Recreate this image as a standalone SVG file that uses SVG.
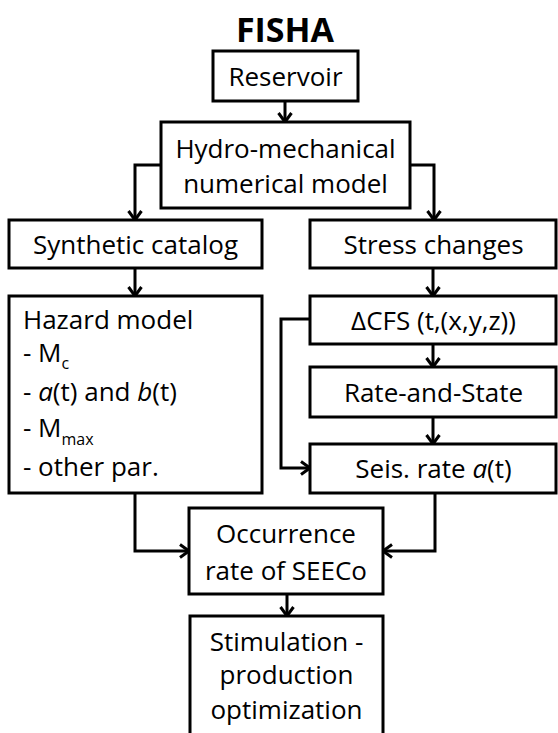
<svg xmlns="http://www.w3.org/2000/svg" width="558" height="733" viewBox="0 0 558 733">
  <style>
    .box { fill: #ffffff; stroke: #000000; stroke-width: 3; }
    .t { font-family: "Open Sans", "Noto Sans", "DejaVu Sans", sans-serif; font-size: 26px; fill: #000000; }
    .c { text-anchor: middle; }
    .title { font-family: "Open Sans", "Noto Sans", "DejaVu Sans", sans-serif; font-size: 34px; font-weight: bold; fill: #000000; text-anchor: middle; }
    .sub { font-size: 16px; }
    .conn { fill: none; stroke: #000000; stroke-width: 3; marker-end: url(#arr); }
  </style>
  <defs>
    <marker id="arr" markerUnits="userSpaceOnUse" viewBox="0 0 16 16" markerWidth="16" markerHeight="16" refX="12" refY="8" orient="auto">
      <path d="M3,1.5 L12,8 L3,14.5" fill="none" stroke="#000000" stroke-width="3"/>
    </marker>
  </defs>
  <rect width="558" height="733" fill="#ffffff"/>

  <text class="title" x="285" y="42">FISHA</text>

  <g id="connectors">
    <path class="conn" d="M285,101 V122"/>
    <path class="conn" d="M161,165 H135 V220"/>
    <path class="conn" d="M410,165 H434 V220"/>
    <path class="conn" d="M135,268 V296"/>
    <path class="conn" d="M433,268 V296"/>
    <path class="conn" d="M433,344 V367"/>
    <path class="conn" d="M433,417 V444"/>
    <path class="conn" d="M312,319 H281 V468 H310"/>
    <path class="conn" d="M135,493 V551 H189"/>
    <path class="conn" d="M435,493 V551 H383"/>
    <path class="conn" d="M287,594 V616"/>
  </g>

  <g id="reservoir">
    <rect class="box" x="213" y="51" width="145" height="50"/>
    <text class="t c" x="285.5" y="86">Reservoir</text>
  </g>

  <g id="hydro">
    <rect class="box" x="161" y="122" width="249" height="86"/>
    <text class="t c" x="285.5" y="158">Hydro-mechanical</text>
    <text class="t c" x="285.5" y="193">numerical model</text>
  </g>

  <g id="synthetic">
    <rect class="box" x="9" y="220" width="253" height="48"/>
    <text class="t c" x="135.5" y="254">Synthetic catalog</text>
  </g>

  <g id="stress">
    <rect class="box" x="310" y="220" width="246" height="48"/>
    <text class="t c" x="433.5" y="254">Stress changes</text>
  </g>

  <g id="hazard">
    <rect class="box" x="9" y="296" width="253" height="197"/>
    <text class="t" x="23" y="329">Hazard model</text>
    <text class="t" x="23" y="362">- M<tspan class="sub" dy="7">c</tspan></text>
    <text class="t" x="23" y="401">- <tspan font-style="italic">a</tspan>(t) and <tspan font-style="italic">b</tspan>(t)</text>
    <text class="t" x="23" y="437">- M<tspan class="sub" dy="8">max</tspan></text>
    <text class="t" x="23" y="476">- other par.</text>
  </g>

  <g id="dcfs">
    <rect class="box" x="310" y="296" width="246" height="48"/>
    <text class="t c" x="433.5" y="330">ΔCFS (t,(x,y,z))</text>
  </g>

  <g id="rate-and-state">
    <rect class="box" x="310" y="367" width="246" height="50"/>
    <text class="t c" x="433.5" y="402">Rate-and-State</text>
  </g>

  <g id="seis-rate">
    <rect class="box" x="310" y="444" width="246" height="49"/>
    <text class="t c" x="433.5" y="478">Seis. rate <tspan font-style="italic">a</tspan>(t)</text>
  </g>

  <g id="occurrence">
    <rect class="box" x="189" y="508" width="194" height="86"/>
    <text class="t c" x="286" y="543">Occurrence</text>
    <text class="t c" x="286" y="580">rate of SEECo</text>
  </g>

  <g id="stimulation">
    <rect class="box" x="190" y="616" width="193" height="130"/>
    <text class="t c" x="286.5" y="651">Stimulation -</text>
    <text class="t c" x="286.5" y="684">production</text>
    <text class="t c" x="286.5" y="719">optimization</text>
  </g>
</svg>
